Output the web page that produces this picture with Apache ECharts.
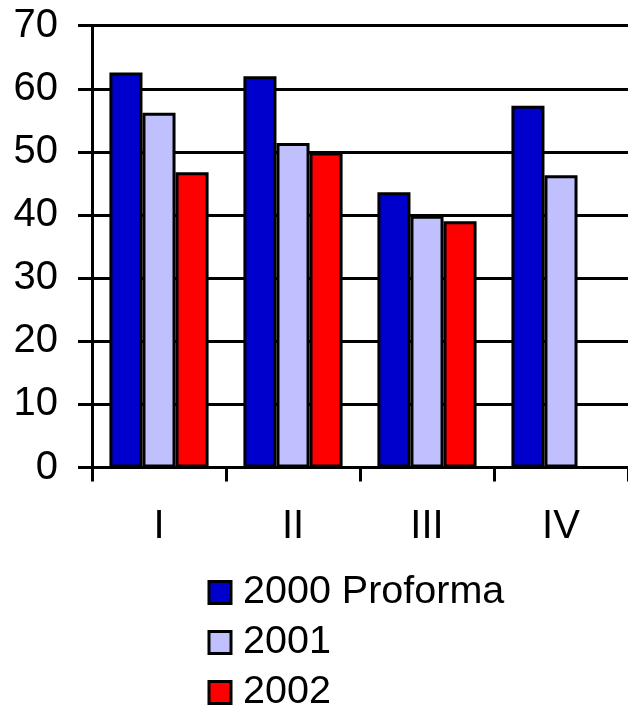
<!DOCTYPE html>
<html>
<head>
<meta charset="utf-8">
<script src="https://cdn.jsdelivr.net/npm/echarts@6/dist/echarts.min.js"></script>
<style>
  html, body { margin: 0; padding: 0; background: #ffffff; }
  #chart { width: 628px; height: 705px; }
</style>
</head>
<body>
<div id="chart"></div>
<script>
// Quarterly values per year
const categories = ['I', 'II', 'III', 'IV'];
const seriesNames = ['2000 Proforma', '2001', '2002'];
const values2000 = [62.6, 62.0, 43.6, 57.3];
const values2001 = [56.2, 51.4, 39.9, 46.3];
const values2002 = [46.8, 49.9, 39.0, null];
const seriesColors = ['#0000CC', '#C0C0FF', '#FF0000'];
const yTicks = { min: 0, max: 70, interval: 10 };

const font = '"Liberation Sans", Arial, sans-serif';
const allValues = [values2000, values2001, values2002];
const lineW = 3;

const chart = echarts.init(document.getElementById('chart'), null, { renderer: 'canvas' });

chart.setOption({
  animation: false,
  backgroundColor: '#ffffff',
  textStyle: { fontFamily: font },
  grid: { left: 92, top: 25.7, right: -6.8, bottom: 237.5, containLabel: false },
  legend: {
    orient: 'vertical',
    left: 207.5,
    top: 572.5,
    height: 200,
    padding: 0,
    itemWidth: 22,
    itemHeight: 22,
    itemGap: 10,
    icon: 'rect',
    selectedMode: false,
    itemStyle: { borderColor: '#000', borderWidth: lineW },
    textStyle: { fontFamily: font, fontSize: 39.5, color: '#000', padding: [0, 0, 0, 7] },
    data: seriesNames
  },
  xAxis: {
    type: 'category',
    data: categories,
    axisLine: { lineStyle: { color: '#000', width: lineW } },
    axisTick: { show: true, length: 14, inside: false, alignWithLabel: false, lineStyle: { color: '#000', width: lineW } },
    axisLabel: { fontFamily: font, fontSize: 40, color: '#000', margin: 39 },
    splitLine: { show: false }
  },
  yAxis: {
    type: 'value',
    min: yTicks.min,
    max: yTicks.max,
    interval: yTicks.interval,
    axisLine: { show: true, lineStyle: { color: '#000', width: lineW } },
    axisTick: { show: true, length: 14, lineStyle: { color: '#000', width: lineW } },
    axisLabel: { fontFamily: font, fontSize: 40, color: '#000', margin: 34 },
    splitLine: { show: true, lineStyle: { color: '#000', width: lineW } }
  },
  series: seriesNames.map((name, i) => ({
    name: name,
    type: 'bar',
    data: allValues[i],
    barGap: '0%',
    barCategoryGap: '26%',
    itemStyle: { color: seriesColors[i], borderColor: '#000', borderWidth: lineW }
  }))
});
</script>
</body>
</html>
